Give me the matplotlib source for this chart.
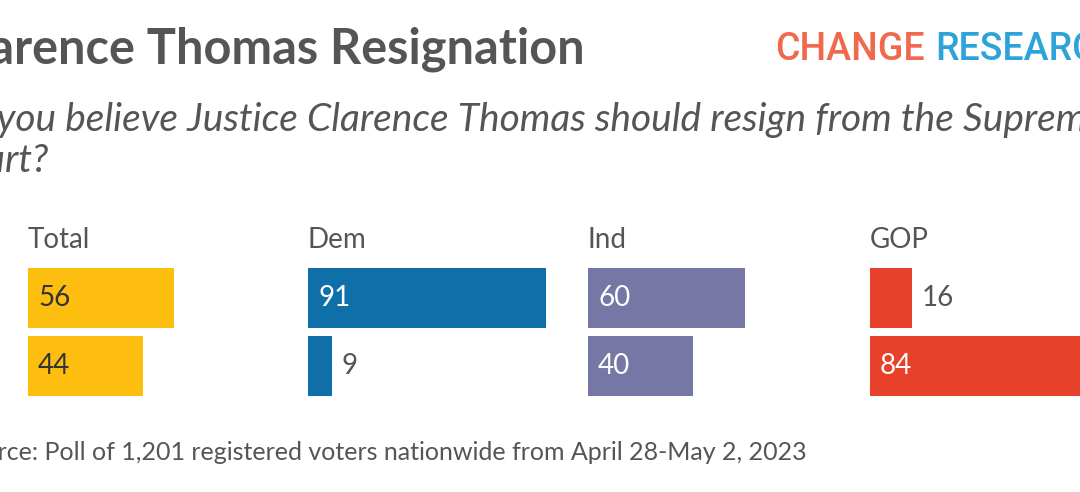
import matplotlib.pyplot as plt

# data
groups = ["Total", "Dem", "Ind", "GOP"]
yes_vals = [56, 91, 60, 16]
no_vals = [44, 9, 40, 84]
bar_colors = ["#FDBE10", "#0F6FA8", "#7677A5", "#E8412B"]
inside_text = ["#333333", "white", "white", "white"]

title = "Clarence Thomas Resignation"
subtitle_1 = "Do you believe Justice Clarence Thomas should resign from the Supreme"
subtitle_2 = "Court?"
source = "Source: Poll of 1,201 registered voters nationwide from April 28-May 2, 2023"

plt.rcParams['font.family'] = ['Lato', 'DejaVu Sans']
W, H = 1080, 492
fig = plt.figure(figsize=(W / 100, H / 100), dpi=100)
fig.patch.set_facecolor("white")

gray = "#555555"

# header
fig.text(585 / W, 1 - 64 / H, title, ha="right", va="baseline",
         fontsize=35, fontweight="bold", color=gray)
fig.text(-60 / W, 1 - 131 / H, subtitle_1, ha="left", va="baseline",
         fontsize=28, style="italic", color=gray)
fig.text(-60 / W, 1 - 172 / H, subtitle_2, ha="left", va="baseline",
         fontsize=28, style="italic", color=gray)
fig.text(775 / W, 1 - 60 / H, "CHANGE", ha="left", va="baseline",
         fontsize=27, fontweight="medium", color="#F0694C", family="Roboto")
fig.text(935 / W, 1 - 60 / H, "RESEARCH", ha="left", va="baseline",
         fontsize=27, fontweight="medium", color="#2EA3D9", family="Roboto")

# panels
lefts = [28, 308, 588, 870]
px_per_unit = 2.615
panel_w = 280
for i, g in enumerate(groups):
    ax = fig.add_axes([lefts[i] / W, (H - 396) / H, panel_w / W, 128 / H])
    ax.set_xlim(0, panel_w / px_per_unit)
    ax.set_ylim(1 + 30 / 68, -30 / 68)
    vals = [yes_vals[i], no_vals[i]]
    ax.barh([0, 1], vals, height=60 / 68, color=bar_colors[i])
    for j, v in enumerate(vals):
        if v >= 20:
            ax.text(10 / px_per_unit, j, str(v), va="center", ha="left",
                    fontsize=20, color=inside_text[i])
        else:
            ax.text(v + 10 / px_per_unit, j, str(v), va="center", ha="left",
                    fontsize=20, color=gray)
    ax.axis("off")
    fig.text(lefts[i] / W, 1 - 248 / H, g, ha="left", va="baseline",
             fontsize=20, color=gray)

fig.text(-44 / W, 1 - 460 / H, source, ha="left", va="baseline",
         fontsize=18, color=gray)

fig.savefig("out.png", dpi=100)
